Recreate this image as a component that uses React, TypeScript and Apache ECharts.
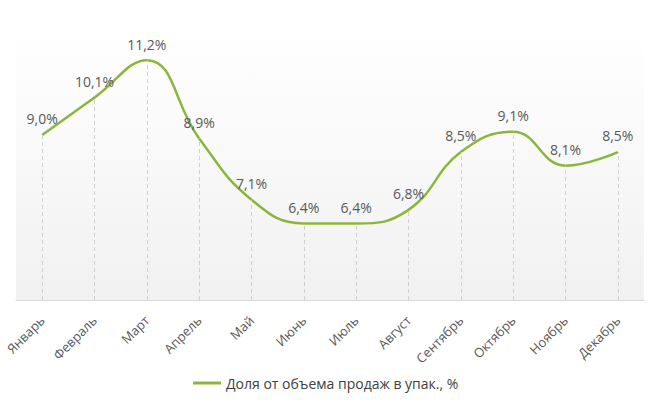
import React, { useEffect, useRef } from "react";
import * as echarts from "echarts";

const months = ["Январь", "Февраль", "Март", "Апрель", "Май", "Июнь", "Июль", "Август", "Сентябрь", "Октябрь", "Ноябрь", "Декабрь"];
const share = [9.0, 10.1, 11.2, 8.9, 7.1, 6.4, 6.4, 6.8, 8.5, 9.1, 8.1, 8.5];
const seriesName = "Доля от объема продаж в упак., %";

const fmt = (v: number) => v.toFixed(1).replace(".", ",") + "%";

export default function App() {
  const ref = useRef<HTMLDivElement>(null);
  useEffect(() => {
    if (!ref.current) return;
    const chart = echarts.init(ref.current, undefined, { renderer: "svg" });
    chart.setOption({
      animation: false,
      backgroundColor: "#ffffff",
      textStyle: { fontFamily: "Open Sans" },
      grid: {
        left: 16,
        right: 16,
        top: 33,
        bottom: 107,
        containLabel: false,
        outerBoundsMode: "none",
        show: true,
        borderWidth: 0,
        backgroundColor: new echarts.graphic.LinearGradient(0, 0, 0, 1, [
          { offset: 0, color: "#ffffff" },
          { offset: 1, color: "#f1f1f1" },
        ]),
      },
      legend: {
        bottom: 12,
        left: 188,
        data: [{ name: seriesName, icon: "rect" }],
        itemWidth: 28,
        itemHeight: 3,
        itemGap: 1,
        textStyle: { color: "#404040", fontSize: 14, fontFamily: "Open Sans" },
      },
      xAxis: {
        type: "category",
        data: months,
        boundaryGap: true,
        axisLine: { lineStyle: { color: "#d9d9d9", width: 1 } },
        axisTick: { show: false },
        axisLabel: {
          rotate: 45,
          color: "#595959",
          fontSize: 13,
          margin: 18,
          interval: 0,
          fontFamily: "Open Sans",
        },
        splitLine: { show: false },
      },
      yAxis: {
        type: "value",
        min: 4.15,
        max: 12,
        show: false,
        splitLine: { show: false },
      },
      series: [
        {
          name: seriesName,
          type: "line",
          data: share,
          smooth: 0.45,
          symbol: "circle",
          symbolSize: 0.1,
          showSymbol: true,
          lineStyle: { color: "#8db53c", width: 2.5 },
          itemStyle: { color: "#8db53c" },
          label: {
            show: true,
            position: "top",
            distance: 9,
            color: "#595959",
            fontSize: 14,
            fontFamily: "Open Sans",
            formatter: (p: any) => fmt(p.value),
          },
          labelLayout: { hideOverlap: false },
          markLine: {
            silent: true,
            symbol: "none",
            label: { show: false },
            lineStyle: { color: "#d0d0d0", type: [4, 3], width: 1 },
            data: share.map((v, i) => [
              { coord: [i, 4.15] },
              { coord: [i, v] },
            ]),
          },
          z: 3,
        },
      ],
    });
    return () => chart.dispose();
  }, []);
  return (
    <div
      ref={ref}
      style={{ position: "absolute", left: 0, top: 0, width: 660, height: 407 }}
    />
  );
}
